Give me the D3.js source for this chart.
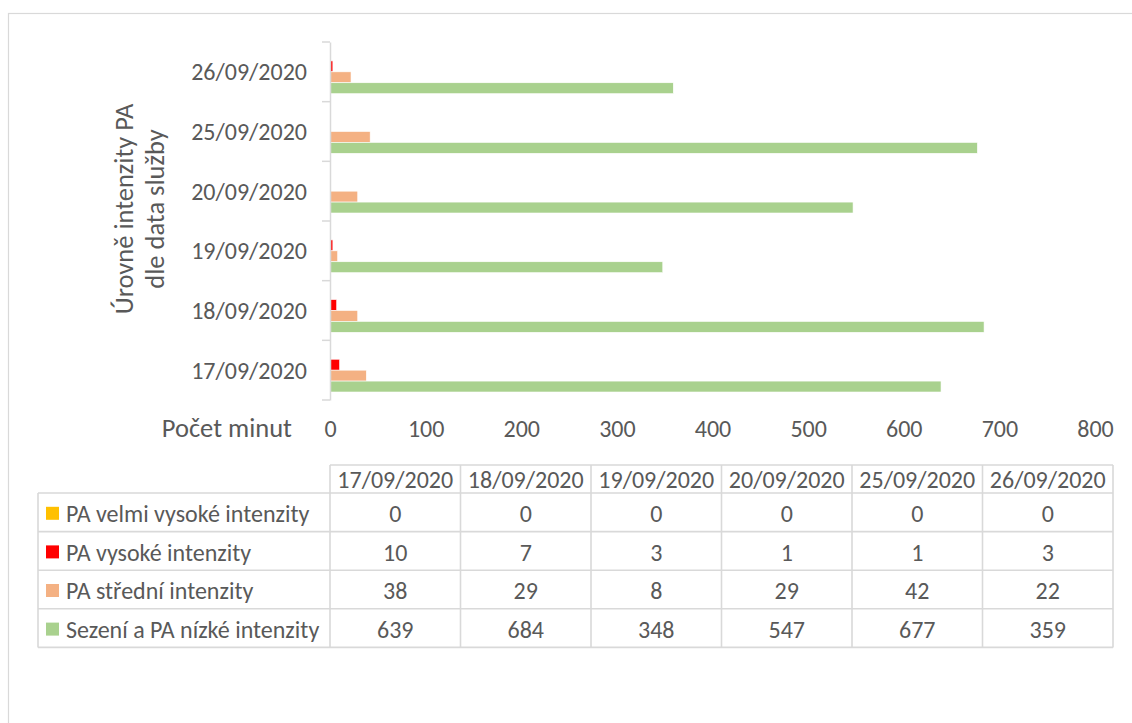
<!DOCTYPE html>
<html>
<head>
<meta charset="utf-8">
<script src="https://cdn.jsdelivr.net/npm/d3@7"></script>
<style>
  html, body { margin: 0; padding: 0; background: #fff; }
  svg { display: block; }
  text { font-family: Carlito, Lato, "Open Sans", sans-serif; fill: #595959; }
</style>
</head>
<body>
<svg id="chart" width="1132" height="723"></svg>
<script>
// ---- data ----
const categories = ['17/09/2020', '18/09/2020', '19/09/2020', '20/09/2020', '25/09/2020', '26/09/2020'];
const seriesNames = ['PA velmi vysoké intenzity', 'PA vysoké intenzity', 'PA střední intenzity', 'Sezení a PA nízké intenzity'];
const veryHighValues = [0, 0, 0, 0, 0, 0];
const highValues = [10, 7, 3, 1, 1, 3];
const moderateValues = [38, 29, 8, 29, 42, 22];
const lowValues = [639, 684, 348, 547, 677, 359];
const xTicks = [0, 100, 200, 300, 400, 500, 600, 700, 800];
const seriesColors = ['#FFC000', '#FF0000', '#F4B183', '#A9D18E'];
const yTitleLines = ['Úrovně intenzity PA', 'dle data služby'];
const xTitle = 'Počet minut';

const seriesValues = [veryHighValues, highValues, moderateValues, lowValues];
const series = seriesNames.map((name, i) => ({ name, color: seriesColors[i], values: seriesValues[i] }));

const svg = d3.select('#chart');
const FS = 24;
const TFS = 26.5;
const grid = '#D9D9D9';

// outer frame
svg.append('rect').attr('x', 8.5).attr('y', 13.5).attr('width', 1300).attr('height', 900)
  .attr('fill', 'none').attr('stroke', grid).attr('stroke-width', 1.2);

// scales
const x = d3.scaleLinear().domain([0, 800]).range([330, 1095]);
const y = d3.scaleBand().domain(categories.slice().reverse()).range([42, 400])
  .paddingInner(0.268).paddingOuter(0.134);
const ySub = d3.scaleBand().domain(seriesNames).range([0, y.bandwidth()]);

// bars
const groups = svg.append('g').selectAll('g').data(categories).join('g')
  .attr('transform', d => `translate(0,${y(d)})`);
groups.selectAll('rect').data(c => series.map(s => ({ s, v: s.values[categories.indexOf(c)] })))
  .join('rect')
  .attr('x', x(0))
  .attr('y', d => ySub(d.s.name))
  .attr('width', d => Math.max(0, x(d.v) - x(0)))
  .attr('height', ySub.bandwidth())
  .attr('fill', d => d.s.color)
  .attr('stroke', d => d.v > 0 ? '#fff' : 'none')
  .attr('stroke-width', 0.6);

// y axis
const yAxisScale = d3.scaleBand().domain(categories.slice().reverse()).range([42, 400]);
const yAxis = svg.append('g').attr('transform', `translate(${x(0)},0)`)
  .call(d3.axisLeft(yAxisScale).tickSize(0).tickFormat(''));
yAxis.select('.domain').attr('stroke', grid).attr('stroke-width', 1.5);
const bounds = categories.slice().reverse().map(c => yAxisScale(c)).concat([400]);
yAxis.selectAll('.bnd').data(bounds).join('line').attr('class', 'bnd')
  .attr('x1', -8).attr('x2', 0).attr('y1', d => d).attr('y2', d => d)
  .attr('stroke', grid).attr('stroke-width', 1.5);
svg.append('g').selectAll('text').data(categories).join('text')
  .attr('x', 307).attr('y', d => yAxisScale(d) + yAxisScale.bandwidth() / 2)
  .attr('dy', '0.35em').attr('text-anchor', 'end').attr('font-size', FS).text(d => d);

// x axis labels (no line)
const xAxis = svg.append('g').attr('transform', 'translate(0,420)')
  .call(d3.axisBottom(x).tickValues(xTicks).tickSize(0).tickPadding(0));
xAxis.select('.domain').remove();
xAxis.selectAll('text').attr('font-size', FS).attr('fill', '#595959')
  .attr('font-family', 'Carlito, Lato, "Open Sans", sans-serif').attr('dy', '0.71em');

// x axis title
svg.append('text').attr('x', 292).attr('y', 437).attr('text-anchor', 'end')
  .attr('font-size', TFS).text(xTitle);

// y axis title
const yt = svg.append('text').attr('transform', 'translate(0,209) rotate(-90)')
  .attr('text-anchor', 'middle').attr('font-size', TFS);
yTitleLines.forEach((t, i) => {
  yt.append('tspan').attr('x', 0).attr('y', 133 + i * 31).text(t);
});

// data table
const tx = d3.scaleBand().domain(categories).range([330, 1113]);
const headerTop = 465, headerBottom = 493, rowH = 38.6;
const tableLeft = 38, tableRight = 1113;
const tbl = svg.append('g');
const lineAttrs = sel => sel.attr('stroke', grid).attr('stroke-width', 1.6);
lineAttrs(tbl.append('line').attr('x1', tx.range()[0]).attr('x2', tableRight).attr('y1', headerTop).attr('y2', headerTop));
const rowYs = d3.range(series.length + 1).map(i => headerBottom + i * rowH);
tbl.selectAll('.hl').data(rowYs).join('line').attr('class', 'hl')
  .attr('x1', tableLeft).attr('x2', tableRight).attr('y1', d => d).attr('y2', d => d).call(lineAttrs);
const colXs = categories.map(c => tx(c)).concat([tableRight]);
tbl.selectAll('.vl').data(colXs).join('line').attr('class', 'vl')
  .attr('x1', d => d).attr('x2', d => d).attr('y1', headerTop).attr('y2', rowYs[rowYs.length - 1]).call(lineAttrs);
lineAttrs(tbl.append('line').attr('x1', tableLeft).attr('x2', tableLeft).attr('y1', headerBottom).attr('y2', rowYs[rowYs.length - 1]));
tbl.selectAll('.ht').data(categories).join('text').attr('class', 'ht')
  .attr('x', d => tx(d) + tx.bandwidth() / 2).attr('y', (headerTop + headerBottom) / 2 + 1)
  .attr('dy', '0.35em').attr('text-anchor', 'middle').attr('font-size', FS).text(d => d);
series.forEach((s, si) => {
  const cy = headerBottom + si * rowH + rowH / 2 + 1.5;
  tbl.append('rect').attr('x', 46).attr('y', cy - 7).attr('width', 13).attr('height', 13).attr('fill', s.color);
  tbl.append('text').attr('x', 66).attr('y', cy).attr('dy', '0.35em').attr('font-size', FS).text(s.name);
  tbl.selectAll(null).data(categories).join('text')
    .attr('x', c => tx(c) + tx.bandwidth() / 2).attr('y', cy).attr('dy', '0.35em')
    .attr('text-anchor', 'middle').attr('font-size', FS)
    .text((c, ci) => s.values[ci]);
});
</script>
</body>
</html>
